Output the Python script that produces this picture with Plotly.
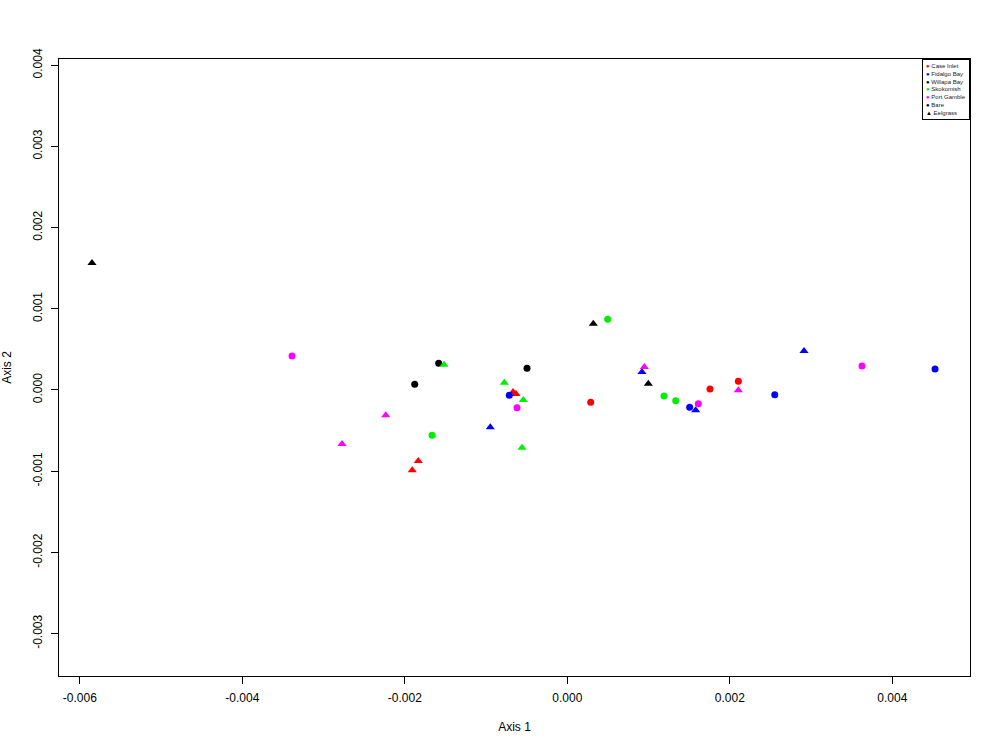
import plotly.graph_objects as go

# ---- data ----
sites = ["Case Inlet", "Fidalgo Bay", "Willapa Bay", "Skokomish", "Port Gamble"]
site_colors = ["#ff0000", "#0000ff", "#000000", "#00ee00", "#ff00ff"]
habitats = ["Bare", "Eelgrass"]

site = (["Case Inlet"] * 7 + ["Fidalgo Bay"] * 8 + ["Willapa Bay"] * 6
        + ["Skokomish"] * 8 + ["Port Gamble"] * 8)
habitat = (["Bare"] * 3 + ["Eelgrass"] * 4
           + ["Bare"] * 4 + ["Eelgrass"] * 4
           + ["Bare"] * 3 + ["Eelgrass"] * 3
           + ["Bare"] * 4 + ["Eelgrass"] * 4
           + ["Bare"] * 4 + ["Eelgrass"] * 4)
axis1 = [0.000288, 0.001756, 0.002105, -0.001908, -0.001834, -0.000668, -0.000631,
         -0.000714, 0.001506, 0.002553, 0.004526, -0.000948, 0.000919, 0.001580, 0.002913,
         -0.001878, -0.001583, -0.000496, -0.005850, 0.000320, 0.000997,
         -0.001665, 0.000497, 0.001190, 0.001334, -0.001518, -0.000775, -0.000542, -0.000558,
         -0.003388, -0.000619, 0.001612, 0.003627, -0.002773, -0.002235, 0.000948, 0.002105]
axis2 = [-0.000151, 0.000012, 0.000107, -0.000989, -0.000874, -0.000025, -0.000049,
         -0.000065, -0.000213, -0.000058, 0.000259, -0.000459, 0.000222, -0.000250, 0.000480,
         0.000070, 0.000329, 0.000267, 0.001564, 0.000816, 0.000078,
         -0.000558, 0.000871, -0.000074, -0.000132, 0.000312, 0.000090, -0.000123, -0.000711,
         0.000419, -0.000218, -0.000169, 0.000296, -0.000665, -0.000312, 0.000283, -0.000004]

x_ticks = [-0.006, -0.004, -0.002, 0.000, 0.002, 0.004]
x_tick_labels = ["-0.006", "-0.004", "-0.002", "0.000", "0.002", "0.004"]
y_ticks = [-0.003, -0.002, -0.001, 0.000, 0.001, 0.002, 0.003, 0.004]
y_tick_labels = ["-0.003", "-0.002", "-0.001", "0.000", "0.001", "0.002", "0.003", "0.004"]

# ---- figure ----
symbol_of = {"Bare": "circle", "Eelgrass": "triangle-up"}
size_of = {"Bare": 7, "Eelgrass": 8}

fig = go.Figure()
for s, col in zip(sites, site_colors):
    for h in habitats:
        xs = [x for x, ss, hh in zip(axis1, site, habitat) if ss == s and hh == h]
        ys = [y for y, ss, hh in zip(axis2, site, habitat) if ss == s and hh == h]
        fig.add_trace(go.Scatter(
            x=xs, y=ys, mode="markers", showlegend=False,
            marker=dict(color=col, symbol=symbol_of[h], size=size_of[h], line=dict(width=0)),
            name=f"{s} {h}"))

# compact R-style legend as a bordered text box
legend_lines = [f"<span style='color:{c}'>\u25cf</span> {s}" for s, c in zip(sites, site_colors)]
legend_lines += ["<span style='color:#000'>\u25cf</span> Bare",
                 "<span style='color:#000'>\u25b2</span> Eelgrass"]
fig.add_annotation(
    xref="paper", yref="paper", x=1, y=1, xanchor="right", yanchor="top",
    text="<br>".join(legend_lines), showarrow=False, align="left",
    font=dict(family="Liberation Sans, Arial", size=6, color="#222"),
    bordercolor="#000", borderwidth=1, borderpad=3, bgcolor="white")

axis_common = dict(
    showgrid=False, zeroline=False, showline=True, linecolor="#000", linewidth=1,
    mirror=True, ticks="outside", ticklen=7, tickwidth=1, tickcolor="#000",
    automargin=False,
    tickfont=dict(family="Liberation Sans, Arial", size=12, color="#000"),
)
fig.update_layout(
    width=1000, height=750,
    paper_bgcolor="white", plot_bgcolor="white",
    margin=dict(l=59, r=30, t=59, b=74),
    font=dict(family="Liberation Sans, Arial", size=12, color="#000"),
    xaxis=dict(axis_common, range=[-0.006256, 0.004956], tickvals=x_ticks, ticktext=x_tick_labels,
               ticklabelstandoff=4,
               title=dict(text="Axis 1", standoff=18, font=dict(size=12))),
    yaxis=dict(axis_common, range=[-0.003522, 0.004076], tickvals=y_ticks, ticktext=y_tick_labels,
               tickangle=-90, ticklabelstandoff=4,
               title=dict(text="Axis 2", standoff=22, font=dict(size=12))),
)

fig.write_html("out.html", config={"displayModeBar": False},
               post_script="document.body.style.margin='0';")
